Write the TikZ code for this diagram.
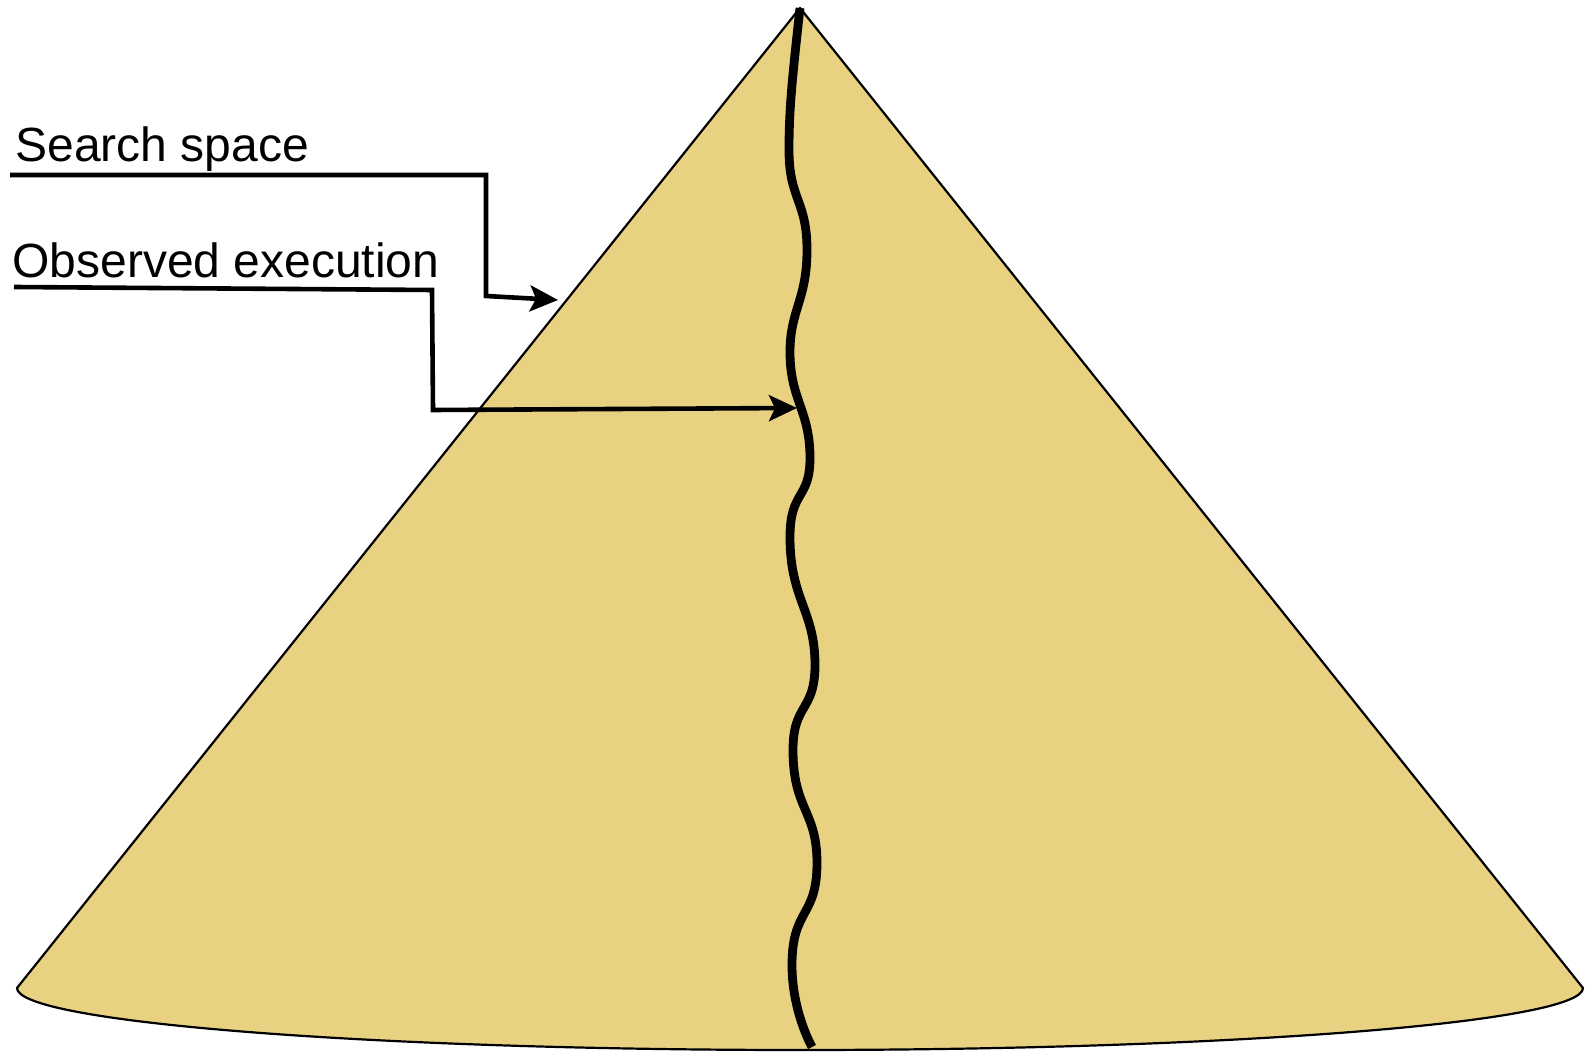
\documentclass[tikz,border=0pt]{standalone}
\usepackage{fontspec}
\setmainfont{Liberation Sans}
\usetikzlibrary{arrows.meta}
\definecolor{sand}{HTML}{E8D282}
\tikzset{
  conebody/.style={fill=sand, draw=black, line width=1.1pt, line join=round},
  pathline/.style={draw=black, line width=4.4pt, line cap=butt},
  callout/.style={draw=black, line width=2.3pt, -{Stealth[length=14pt,width=13pt,inset=3pt]}},
  lbl/.style={font=\fontsize{24pt}{28pt}\selectfont, anchor=base west, inner sep=0pt}
}
\begin{document}
\begin{tikzpicture}[x=0.5pt,y=-0.5pt]
\useasboundingbox (0,0) rectangle (1586,1052);
% cone
\coordinate (apex) at (800,8);
\coordinate (bl) at (17,988);
\coordinate (br) at (1583,988);
\path[conebody] (apex) -- (bl) arc[start angle=180, end angle=0, x radius=783, y radius=62] -- cycle;
% observed execution path
\draw[pathline] (800,8) .. controls (792,80) and (789,110) .. (789,150)
  .. controls (789,200) and (807,200) .. (807,250)
  .. controls (807,300) and (790,310) .. (790,352)
  .. controls (790,400) and (810,410) .. (810,458)
  .. controls (810,500) and (790,490) .. (790,537)
  .. controls (790,600) and (815,610) .. (815,665)
  .. controls (815,712) and (793,703) .. (793,750)
  .. controls (793,810) and (817,810) .. (817,863)
  .. controls (817,918) and (792,908) .. (792,965)
  .. controls (792,1000) and (803,1030) .. (812,1047);
% labels
\node[lbl] (ss) at (15,162) {Search space};
\node[lbl] (oe) at (12,278) {Observed execution};
\coordinate (s0) at (10,175);
\coordinate (s1) at (486,175);
\coordinate (s2) at (486,296);
\coordinate (st) at (558,300);
\draw[callout] (s0) -- (s1) -- (s2) -- (st);
\coordinate (o0) at (14,287);
\coordinate (o1) at (432,290);
\coordinate (o2) at (433,410);
\coordinate (ot) at (797,408);
\draw[callout] (o0) -- (o1) -- (o2) -- (ot);
\end{tikzpicture}
\end{document}
